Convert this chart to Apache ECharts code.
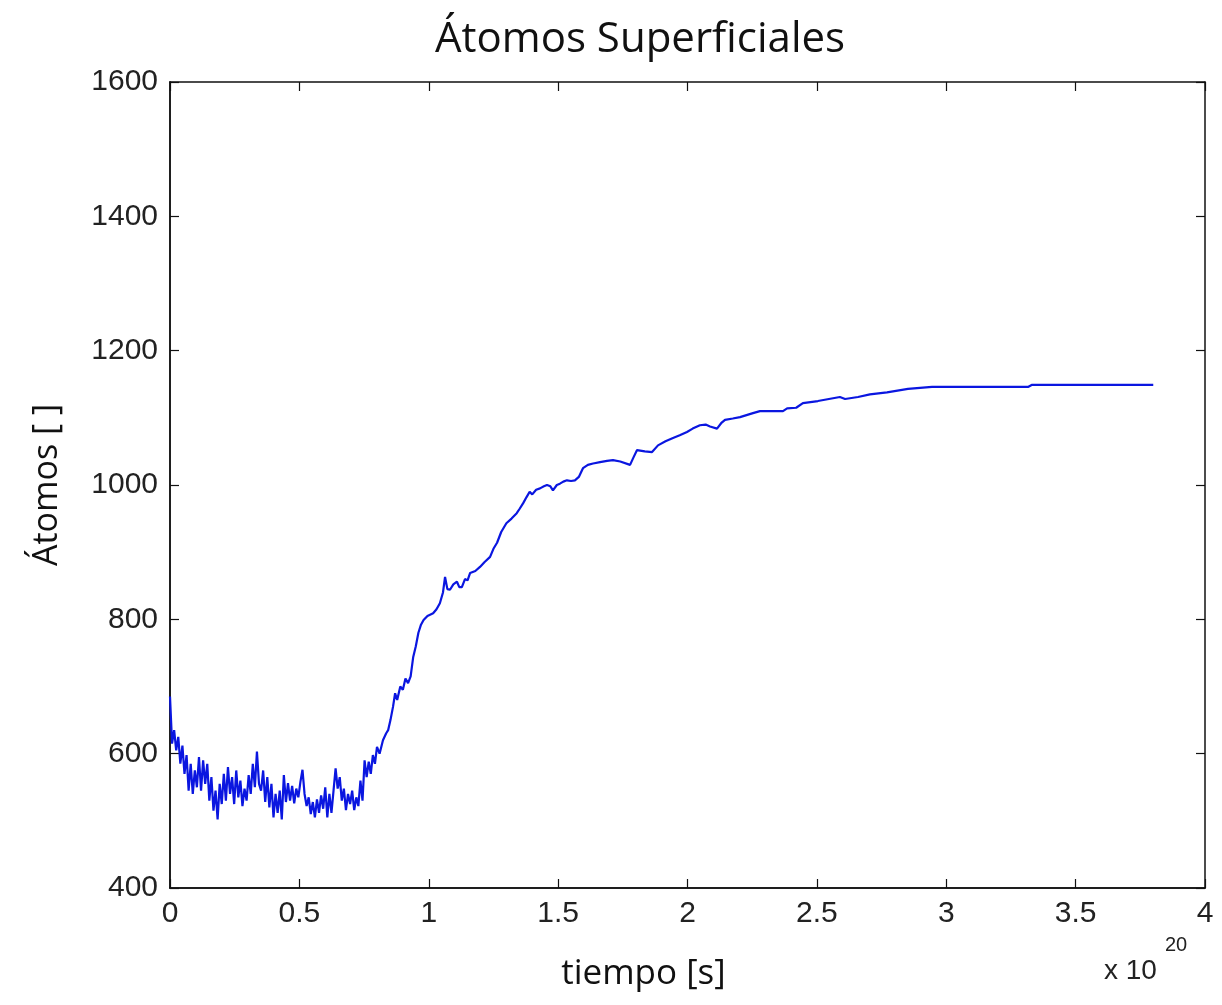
<!DOCTYPE html>
<html>
<head>
<meta charset="utf-8">
<title>Átomos Superficiales</title>
<script src="https://cdn.jsdelivr.net/npm/echarts@6/dist/echarts.min.js"></script>
<style>
  html, body { margin: 0; padding: 0; background: #fff; }
  #chart { width: 1222px; height: 1005px; }
</style>
</head>
<body>
<div id="chart"></div>
<script>
// tiempo (x 10^20 s)
const tiempo = [
  0.000, 0.008, 0.016, 0.024, 0.032, 0.040, 0.048, 0.056, 0.064, 0.072,
  0.080, 0.088, 0.096, 0.104, 0.112, 0.120, 0.128, 0.136, 0.144, 0.152,
  0.160, 0.168, 0.176, 0.184, 0.192, 0.200, 0.208, 0.216, 0.224, 0.232,
  0.240, 0.248, 0.256, 0.264, 0.272, 0.280, 0.288, 0.296, 0.304, 0.312,
  0.320, 0.328, 0.336, 0.344, 0.352, 0.360, 0.368, 0.376, 0.384, 0.392,
  0.400, 0.408, 0.416, 0.424, 0.432, 0.440, 0.448, 0.456, 0.464, 0.472,
  0.480, 0.488, 0.496, 0.504, 0.512, 0.520, 0.528, 0.536, 0.544, 0.552,
  0.560, 0.568, 0.576, 0.584, 0.592, 0.600, 0.608, 0.616, 0.624, 0.632,
  0.640, 0.648, 0.656, 0.664, 0.672, 0.680, 0.688, 0.696, 0.704, 0.712,
  0.720, 0.728, 0.736, 0.744, 0.752, 0.760, 0.768, 0.776, 0.784, 0.792,
  0.800, 0.810, 0.823, 0.835, 0.843, 0.852, 0.862, 0.870, 0.878, 0.890,
  0.900, 0.910, 0.920, 0.930, 0.940, 0.950, 0.960, 0.970, 0.980, 0.995,
  1.017, 1.030, 1.043, 1.055, 1.063, 1.072, 1.082, 1.095, 1.109, 1.118,
  1.128, 1.140, 1.150, 1.160, 1.180, 1.198, 1.215, 1.237, 1.250, 1.264,
  1.280, 1.300, 1.320, 1.340, 1.352, 1.365, 1.378, 1.390, 1.400, 1.415,
  1.430, 1.445, 1.457, 1.470, 1.480, 1.495, 1.507, 1.520, 1.534, 1.550,
  1.565, 1.580, 1.596, 1.615, 1.635, 1.662, 1.689, 1.712, 1.740, 1.778,
  1.790, 1.805, 1.835, 1.863, 1.886, 1.915, 1.944, 1.970, 1.998, 2.020,
  2.048, 2.070, 2.087, 2.114, 2.130, 2.145, 2.175, 2.203, 2.253, 2.280,
  2.369, 2.385, 2.420, 2.446, 2.504, 2.589, 2.609, 2.659, 2.705, 2.771,
  2.852, 2.945, 3.316, 3.330, 3.800
];

// átomos superficiales
const atomos = [
  685, 615, 635, 605, 625, 585, 612, 570, 598, 545,
  585, 540, 575, 550, 595, 545, 590, 555, 585, 530,
  565, 515, 545, 502, 555, 525, 570, 530, 580, 540,
  565, 525, 575, 535, 560, 522, 548, 530, 568, 540,
  585, 550, 603, 555, 545, 575, 528, 565, 520, 555,
  505, 540, 512, 545, 502, 568, 528, 556, 530, 552,
  526, 548, 535, 558, 576, 540, 522, 535, 510, 528,
  505, 532, 512, 538, 518, 550, 505, 540, 512, 545,
  578, 548, 565, 530, 548, 516, 540, 525, 545, 516,
  535, 522, 560, 530, 590, 565, 588, 570, 598, 585,
  610, 600, 620, 630, 635, 650, 670, 690, 680, 700,
  695, 712, 705, 715, 744, 760, 780, 792, 799, 805,
  809, 815, 824, 840, 863, 845, 844, 852, 856, 848,
  848, 860, 858, 869, 872, 878, 885, 893, 905, 914,
  930, 943, 950, 958, 965, 973, 982, 990, 986, 993,
  995, 998, 1000, 998, 992, 1000, 1002, 1005, 1007, 1006,
  1007, 1012, 1025, 1030, 1032, 1034, 1036, 1037, 1035, 1030,
  1040, 1052, 1050, 1049, 1059, 1065, 1070, 1074, 1079, 1084,
  1089, 1090, 1087, 1084, 1092, 1097, 1099, 1101, 1107, 1110,
  1110, 1114, 1115, 1122, 1125, 1131, 1128, 1131, 1135, 1138,
  1143, 1146, 1146, 1149, 1149
];

const xTicks = [0, 0.5, 1, 1.5, 2, 2.5, 3, 3.5, 4];
const yTicks = [400, 600, 800, 1000, 1200, 1400, 1600];

const chart = echarts.init(document.getElementById('chart'));

// box frame like matlab: every side gets its own axis with ticks pointing inward
function frameLine() {
  return { show: true, onZero: false, lineStyle: { color: '#111', width: 1.5 } };
}
function innerTick() {
  return { show: true, inside: true, length: 9, lineStyle: { color: '#111', width: 1.2 } };
}
function tickFont() {
  return { fontFamily: 'Liberation Sans', fontSize: 30, color: '#222' };
}
function xFrame(pos) {
  return {
    type: 'value', min: xTicks[0], max: xTicks[xTicks.length - 1], interval: 0.5,
    position: pos, axisLine: frameLine(), axisTick: innerTick(),
    splitLine: { show: false }, axisLabel: { show: false }
  };
}
function yFrame(pos) {
  return {
    type: 'value', min: yTicks[0], max: yTicks[yTicks.length - 1], interval: 200,
    position: pos, axisLine: frameLine(), axisTick: innerTick(),
    splitLine: { show: false }, axisLabel: { show: false }
  };
}

chart.setOption({
  animation: false,
  backgroundColor: '#fff',
  title: {
    text: 'Átomos Superficiales',
    left: 430,
    top: 14,
    textStyle: { fontFamily: 'Open Sans', fontWeight: 'normal', fontSize: 42, color: '#111' }
  },
  grid: { left: 170, right: 17, top: 82, bottom: 117, containLabel: false },
  xAxis: [{
    type: 'value',
    min: xTicks[0],
    max: xTicks[xTicks.length - 1],
    interval: 0.5,
    position: 'bottom',
    axisLine: frameLine(),
    axisTick: { show: false },
    splitLine: { show: false },
    axisLabel: { ...tickFont(), margin: 11, formatter: v => String(v) },
    name: 'tiempo [s]',
    nameLocation: 'middle',
    nameGap: 69,
    nameTextStyle: { fontFamily: 'Open Sans', fontSize: 35, color: '#111', padding: [0, 88, 0, 0] }
  }, xFrame('top'), xFrame('bottom')],
  yAxis: [{
    type: 'value',
    min: yTicks[0],
    max: yTicks[yTicks.length - 1],
    interval: 200,
    position: 'left',
    axisLine: frameLine(),
    axisTick: { show: false },
    splitLine: { show: false },
    axisLabel: { ...tickFont(), margin: 12, formatter: v => String(v) },
    name: 'Átomos [ ]',
    nameLocation: 'middle',
    nameRotate: 90,
    nameGap: 106,
    nameTextStyle: { fontFamily: 'Open Sans', fontSize: 34, color: '#111' }
  }, yFrame('right'), yFrame('left')],
  graphic: [{
    type: 'text',
    left: 1104,
    top: 957,
    style: { text: 'x 10', font: '28px "Liberation Sans"', fill: '#222' }
  }, {
    type: 'text',
    left: 1165,
    top: 935,
    style: { text: '20', font: '20px "Liberation Sans"', fill: '#222' }
  }],
  series: [{
    type: 'line',
    data: tiempo.map((t, i) => [t, atomos[i]]),
    showSymbol: false,
    symbol: 'none',
    lineStyle: { color: '#0a16e0', width: 2.2 },
    xAxisIndex: 0,
    yAxisIndex: 0
  }]
});
</script>
</body>
</html>
